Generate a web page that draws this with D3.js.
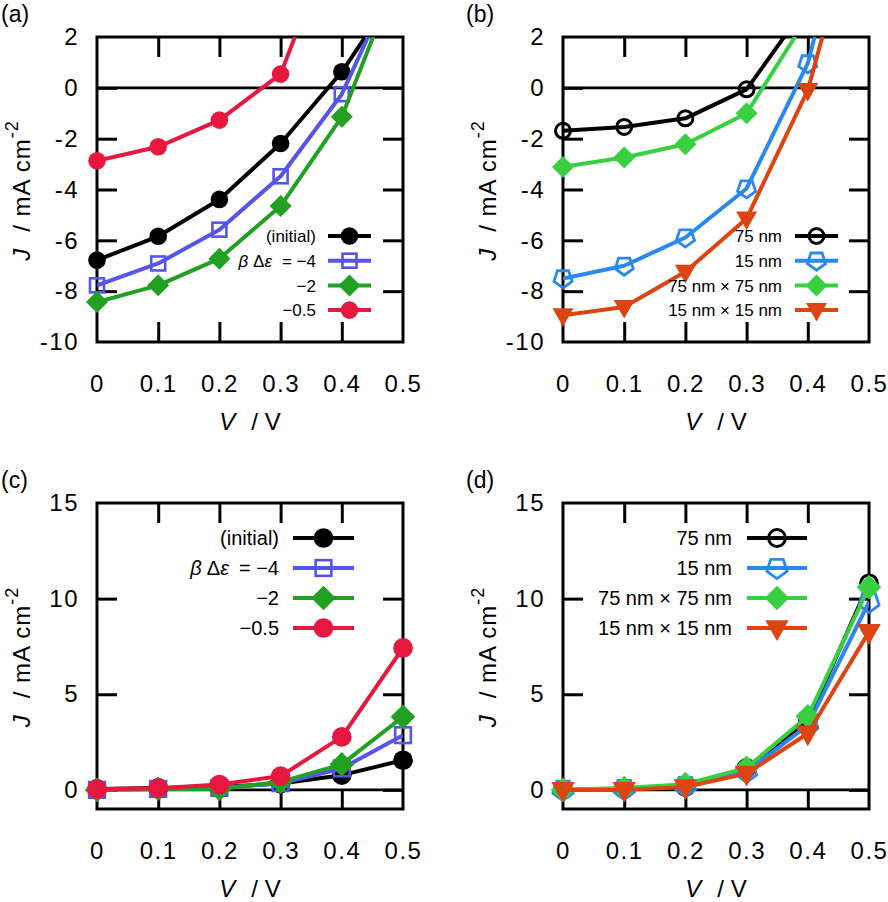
<!DOCTYPE html>
<html>
<head>
<meta charset="utf-8">
<script src="https://cdn.jsdelivr.net/npm/d3@7"></script>
<style>
  body { margin: 0; background: #fff; }
  text { font-family: "Liberation Sans", Arial, sans-serif; fill: #000; }
</style>
</head>
<body>
<div id="chart"></div>
<script>
/* data */
var voltage = [0, 0.1, 0.2, 0.3, 0.4, 0.5];

// (a) illuminated, beta*delta-eps series
var aInitial = [-6.78, -5.84, -4.39, -2.19, 0.63, 4.2];
var aMinus4  = [-7.77, -6.91, -5.58, -3.48, -0.25, 5.0];
var aMinus2  = [-8.43, -7.77, -6.72, -4.65, -1.14, 5.0];
var aMinus05 = [-2.87, -2.32, -1.27, 0.54, 6.8, 15];

// (b) illuminated, size series
var b75    = [-1.69, -1.54, -1.20, -0.06, 3.3, 10];
var b15    = [-7.50, -7.00, -5.89, -3.96, 0.96, 10.4];
var b75x75 = [-3.11, -2.74, -2.22, -1.00, 2.8, 10];
var b15x15 = [-8.95, -8.62, -7.24, -5.14, -0.09, 8.7];

// (c) dark, beta*delta-eps series
var cInitial = [0.05, 0.10, 0.15, 0.33, 0.77, 1.55];
var cMinus4  = [0.00, 0.05, 0.10, 0.35, 1.12, 2.86];
var cMinus2  = [0.00, 0.05, 0.05, 0.42, 1.33, 3.82];
var cMinus05 = [0.03, 0.08, 0.28, 0.72, 2.77, 7.42];

// (d) dark, size series
var d75    = [0.00, 0.05, 0.15, 1.15, 3.60, 10.8];
var d15    = [0.00, 0.05, 0.20, 0.95, 3.38, 9.83];
var d75x75 = [0.00, 0.10, 0.30, 1.15, 3.85, 10.6];
var d15x15 = [0.00, 0.00, 0.15, 0.85, 2.95, 8.26];

var xTicks = [0, 0.1, 0.2, 0.3, 0.4, 0.5];
var yTicksTop = [-10, -8, -6, -4, -2, 0, 2];
var yTicksBottom = [0, 5, 10, 15];

var betaLabels = ["(initial)", "beta", "\u22122", "\u22120.5"];
var sizeLabels = ["75 nm", "15 nm", "75 nm \u00d7 75 nm", "15 nm \u00d7 15 nm"];


var svg = d3.select("#chart")
            .append("svg")
            .attr("width", 888)
            .attr("height", 902);

/* marker shapes, s = size scale of the panel */
function drawMarker(g, type, color, s) {
  if (type == "circle") {
    g.append("circle").attr("r", 8.8 * s).style("fill", color);
  } else if (type == "ocircle") {
    g.append("circle").attr("r", 7.5 * s).style("fill", "none")
     .style("stroke", color).style("stroke-width", 3);
  } else if (type == "square") {
    var h = 7 * s;
    g.append("rect").attr("x", -h).attr("y", -h).attr("width", 2 * h).attr("height", 2 * h)
     .style("fill", "none").style("stroke", color).style("stroke-width", 2.6);
  } else if (type == "diamond") {
    var d = 11 * s;
    g.append("path").attr("d", "M0," + (-d) + "L" + d + ",0L0," + d + "L" + (-d) + ",0Z")
     .style("fill", color);
  } else if (type == "tridown") {
    var w = 10.5 * s;
    g.append("path").attr("d", "M" + (-w) + "," + (-7 * s) + "L" + w + "," + (-7 * s) + "L0," + (11.5 * s) + "Z")
     .style("fill", color);
  } else if (type == "pentagon") {
    var R = 9.5 * s, pts = [];
    for (var k = 0; k < 5; k++) {
      var ang = Math.PI / 2 + k * 2 * Math.PI / 5;   // point down
      pts.push([R * Math.cos(ang), R * Math.sin(ang)]);
    }
    g.append("path").attr("d", "M" + pts.join("L") + "Z")
     .style("fill", "none").style("stroke", color).style("stroke-width", 2.8)
     .style("stroke-linejoin", "miter");
  }
}

function drawPanel(p) {
  var x = d3.scaleLinear().domain([0, 0.5]).range([p.left, p.right]);
  var y = d3.scaleLinear().domain(p.yDomain).range([p.bottom, p.top]);
  var g = svg.append("g");

  /* panel letter */
  g.append("text").attr("x", p.left - p.letterDx).attr("y", p.top - 15)
   .style("font-size", "23px").text(p.letter);

  /* zero line */
  g.append("line")
   .attr("x1", p.left).attr("x2", p.right)
   .attr("y1", y(0)).attr("y2", y(0))
   .style("stroke", "#000").style("stroke-width", 2.6);

  /* axes, ticks pointing inwards */
  var tickStyle = function (sel) {
    sel.select(".domain").remove();
    sel.selectAll(".tick line").style("stroke", "#000").style("stroke-width", 3);
    sel.selectAll(".tick text").style("font-family", "Liberation Sans, Arial, sans-serif")
       .style("font-size", "24px").style("letter-spacing", "1.5px").style("fill", "#000");
  };
  var inner = function (d) { return d > p.yDomain[0] && d < p.yDomain[1]; };
  var innerX = function (d) { return d > 0 && d < 0.5; };

  g.append("g").attr("transform", "translate(" + p.left + ",0)")
   .call(d3.axisLeft(y).tickValues(p.yTicks).tickSizeInner(-20).tickSizeOuter(0).tickPadding(18)
        .tickFormat(function (d) { return String(d); }))
   .call(tickStyle)
   .selectAll(".tick line").filter(function (d) { return !inner(d); }).remove();
  g.append("g").attr("transform", "translate(" + p.right + ",0)")
   .call(d3.axisRight(y).tickValues(p.yTicks.filter(inner)).tickSizeInner(-20).tickSizeOuter(0).tickFormat(""))
   .call(tickStyle);
  g.append("g").attr("transform", "translate(0," + p.bottom + ")")
   .call(d3.axisBottom(x).tickValues(xTicks).tickSizeInner(-20).tickSizeOuter(0).tickPadding(33)
        .tickFormat(function (d) { return d == 0 ? "0" : d3.format(".1f")(d); }))
   .call(tickStyle)
   .selectAll(".tick line").filter(function (d) { return !innerX(d); }).remove();
  g.append("g").attr("transform", "translate(0," + p.top + ")")
   .call(d3.axisTop(x).tickValues(xTicks.filter(innerX)).tickSizeInner(-20).tickSizeOuter(0).tickFormat(""))
   .call(tickStyle);

  /* frame */
  g.append("rect")
   .attr("x", p.left).attr("y", p.top)
   .attr("width", p.right - p.left).attr("height", p.bottom - p.top)
   .style("fill", "none").style("stroke", "#000").style("stroke-width", 3);

  /* axis titles */
  var xl = g.append("text").attr("x", (p.left + p.right) / 2).attr("y", p.bottom + 88)
            .attr("text-anchor", "middle").style("font-size", "24px");
  xl.append("tspan").style("font-style", "italic").text("V");
  xl.append("tspan").attr("dx", 16).text("/ V");

  var yl = g.append("text")
            .attr("transform", "translate(" + (p.left - 67) + "," + ((p.top + p.bottom) / 2 + 1) + ") rotate(-90)")
            .attr("text-anchor", "middle").style("font-size", "24px").style("letter-spacing", "1px");
  yl.append("tspan").style("font-style", "italic").text("J");
  yl.append("tspan").attr("dx", 16).text("/ mA cm");
  yl.append("tspan").attr("dy", -12).style("font-size", "18px").text("-2");

  /* data */
  var clipId = "clip" + p.letter.replace(/[()]/g, "");
  svg.append("clipPath").attr("id", clipId).append("rect")
     .attr("x", p.left).attr("y", p.top)
     .attr("width", p.right - p.left).attr("height", p.bottom - p.top);

  var line = d3.line().x(function (d) { return x(d[0]); }).y(function (d) { return y(d[1]); });

  p.series.forEach(function (s) {
    var pts = voltage.map(function (v, i) { return [v, s.values[i]]; });
    g.append("path").datum(pts)
     .attr("clip-path", "url(#" + clipId + ")")
     .attr("d", line)
     .style("fill", "none").style("stroke", s.color).style("stroke-width", 4)
     .style("stroke-linejoin", "round");
    pts.filter(function (d) { return d[1] >= p.yDomain[0] && d[1] <= p.yDomain[1]; })
       .forEach(function (d) {
         var m = g.append("g").attr("transform", "translate(" + x(d[0]) + "," + y(d[1]) + ")");
         drawMarker(m, s.marker, s.color, p.ms);
       });
  });

  /* legend */
  p.series.forEach(function (s, i) {
    var ry = p.top + p.legend.y0 + i * p.legend.dy;
    var t = g.append("text").attr("x", p.left + p.legend.textX).attr("y", ry)
             .attr("dy", "0.36em").attr("text-anchor", "end")
             .style("font-size", p.legend.font + "px");
    if (s.label == "beta") {
      t.append("tspan").style("font-style", "italic").text("\u03b2");
      t.append("tspan").attr("dx", 5).text("\u0394");
      t.append("tspan").style("font-style", "italic").text("\u03b5");
      t.append("tspan").attr("dx", 10).text("= \u22124");
    } else {
      t.text(s.label);
    }
    g.append("line")
     .attr("x1", p.left + p.legend.lineX0).attr("x2", p.left + p.legend.lineX1)
     .attr("y1", ry).attr("y2", ry)
     .style("stroke", s.color).style("stroke-width", 4);
    var m = g.append("g").attr("transform", "translate(" + (p.left + (p.legend.lineX0 + p.legend.lineX1) / 2) + "," + ry + ")");
    drawMarker(m, s.marker, s.color, p.ms);
  });
}

var betaColors = ["#000000", "#5555ee", "#22a022", "#e8173f"];
var sizeColors = ["#000000", "#2a88ee", "#38d040", "#dd4412"];

drawPanel({
  letter: "(a)", letterDx: 96, left: 97, right: 403, top: 37, bottom: 342,
  yDomain: [-10, 2], yTicks: yTicksTop, ms: 1,
  legend: { textX: 219, lineX0: 231, lineX1: 274, y0: 199, dy: 24.7, font: 17 },
  series: [
    { label: betaLabels[0], values: aInitial, color: betaColors[0], marker: "circle" },
    { label: betaLabels[1], values: aMinus4,  color: betaColors[1], marker: "square" },
    { label: betaLabels[2], values: aMinus2,  color: betaColors[2], marker: "diamond" },
    { label: betaLabels[3], values: aMinus05, color: betaColors[3], marker: "circle" }
  ]
});

drawPanel({
  letter: "(b)", letterDx: 97, left: 563, right: 869, top: 37, bottom: 342,
  yDomain: [-10, 2], yTicks: yTicksTop, ms: 1,
  legend: { textX: 219, lineX0: 232, lineX1: 275, y0: 199, dy: 24.7, font: 17 },
  series: [
    { label: sizeLabels[0], values: b75,    color: sizeColors[0], marker: "ocircle" },
    { label: sizeLabels[1], values: b15,    color: sizeColors[1], marker: "pentagon" },
    { label: sizeLabels[2], values: b75x75, color: sizeColors[2], marker: "diamond" },
    { label: sizeLabels[3], values: b15x15, color: sizeColors[3], marker: "tridown" }
  ]
});

drawPanel({
  letter: "(c)", letterDx: 96, left: 97, right: 403, top: 503, bottom: 809,
  yDomain: [-1, 15], yTicks: yTicksBottom, ms: 1.12,
  legend: { textX: 182, lineX0: 196, lineX1: 257, y0: 35, dy: 30, font: 20 },
  series: [
    { label: betaLabels[0], values: cInitial, color: betaColors[0], marker: "circle" },
    { label: betaLabels[1], values: cMinus4,  color: betaColors[1], marker: "square" },
    { label: betaLabels[2], values: cMinus2,  color: betaColors[2], marker: "diamond" },
    { label: betaLabels[3], values: cMinus05, color: betaColors[3], marker: "circle" }
  ]
});

drawPanel({
  letter: "(d)", letterDx: 97, left: 563, right: 869, top: 503, bottom: 809,
  yDomain: [-1, 15], yTicks: yTicksBottom, ms: 1.12,
  legend: { textX: 169, lineX0: 184, lineX1: 244, y0: 35, dy: 30, font: 20 },
  series: [
    { label: sizeLabels[0], values: d75,    color: sizeColors[0], marker: "ocircle" },
    { label: sizeLabels[1], values: d15,    color: sizeColors[1], marker: "pentagon" },
    { label: sizeLabels[2], values: d75x75, color: sizeColors[2], marker: "diamond" },
    { label: sizeLabels[3], values: d15x15, color: sizeColors[3], marker: "tridown" }
  ]
});
</script>
</body>
</html>
